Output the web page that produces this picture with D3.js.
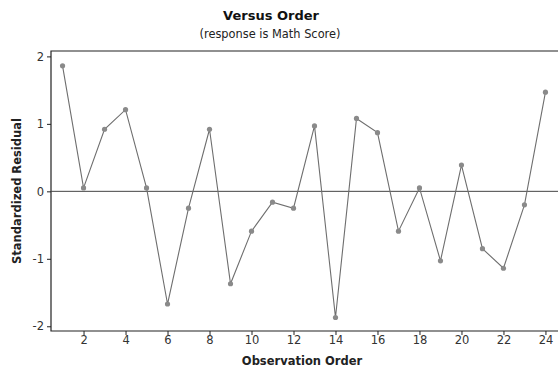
<!DOCTYPE html>
<html>
<head>
<meta charset="utf-8">
<script src="https://cdn.jsdelivr.net/npm/d3@7"></script>
<style>
  body { margin: 0; background: #fff; }
  text { font-family: "DejaVu Sans", Verdana, sans-serif; }
</style>
</head>
<body>
<div id="chart"></div>
<script>
// observation order and standardized residuals
const order = d3.range(1, 25);
const residuals = [1.86, 0.05, 0.92, 1.21, 0.05, -1.67, -0.25, 0.92, -1.37, -0.59, -0.16, -0.25,
  0.97, -1.87, 1.08, 0.87, -0.59, 0.05, -1.03, 0.39, -0.85, -1.14, -0.20, 1.47];
const xTicks = [2, 4, 6, 8, 10, 12, 14, 16, 18, 20, 22, 24];
const yTicks = [-2, -1, 0, 1, 2];

const data = order.map((o, i) => ({ order: o, res: residuals[i] }));

const W = 558, H = 371;
const margin = { top: 51, right: 1, bottom: 40, left: 51 };
const width = W - margin.left - margin.right,
  height = H - margin.top - margin.bottom;

const svg = d3.select('#chart')
  .append('svg')
  .attr('width', W)
  .attr('height', H);

const g = svg.append('g')
  .attr('transform', `translate(${margin.left}, ${margin.top})`);

const x = d3.scaleLinear()
  .domain([0.45, 24.55])
  .range([0, width]);

const y = d3.scaleLinear()
  .domain([-2.07, 2.08])
  .range([height, 0]);

// frame (top, left, bottom)
g.append('path')
  .attr('d', `M${width + 1},0H0V${height}H${width + 1}`)
  .attr('fill', 'none')
  .attr('stroke', '#222')
  .attr('stroke-width', 1.2);

// reference line at 0
g.append('line')
  .attr('x1', 0).attr('x2', width + 1)
  .attr('y1', y(0)).attr('y2', y(0))
  .attr('stroke', '#444')
  .attr('stroke-width', 1);

const xAxis = g.append('g')
  .attr('transform', `translate(0, ${height})`)
  .call(d3.axisBottom(x).tickValues(xTicks).tickSize(4).tickSizeOuter(0).tickPadding(1));

const yAxis = g.append('g')
  .call(d3.axisLeft(y).tickValues(yTicks).tickFormat(d => String(d))
    .tickSize(4).tickSizeOuter(0).tickPadding(3));

[xAxis, yAxis].forEach(a => {
  a.select('.domain').remove();
  a.selectAll('line').attr('stroke', '#222');
  a.selectAll('text')
    .attr('font-family', '"DejaVu Sans", Verdana, sans-serif')
    .attr('font-size', 11.5)
    .attr('fill', '#333');
});

const line = d3.line()
  .x(d => x(d.order))
  .y(d => y(d.res));

g.append('path')
  .datum(data)
  .attr('fill', 'none')
  .attr('stroke', '#6e6e6e')
  .attr('stroke-width', 1.1)
  .attr('d', line);

g.selectAll('circle')
  .data(data)
  .join('circle')
  .attr('cx', d => x(d.order))
  .attr('cy', d => y(d.res))
  .attr('r', 2.6)
  .attr('fill', '#8a8a8a');

svg.append('text')
  .attr('x', 271)
  .attr('y', 20)
  .attr('text-anchor', 'middle')
  .attr('font-weight', 'bold')
  .attr('font-size', 13)
  .attr('fill', '#111')
  .text('Versus Order');

svg.append('text')
  .attr('x', 270)
  .attr('y', 38)
  .attr('text-anchor', 'middle')
  .attr('font-size', 11.4)
  .attr('fill', '#222')
  .text('(response is Math Score)');

svg.append('text')
  .attr('x', 302)
  .attr('y', 365)
  .attr('text-anchor', 'middle')
  .attr('font-weight', 'bold')
  .attr('font-size', 11.5)
  .attr('fill', '#222')
  .text('Observation Order');

svg.append('text')
  .attr('transform', `translate(21, 191) rotate(-90)`)
  .attr('text-anchor', 'middle')
  .attr('font-weight', 'bold')
  .attr('font-size', 11.5)
  .attr('fill', '#222')
  .text('Standardized Residual');
</script>
</body>
</html>
